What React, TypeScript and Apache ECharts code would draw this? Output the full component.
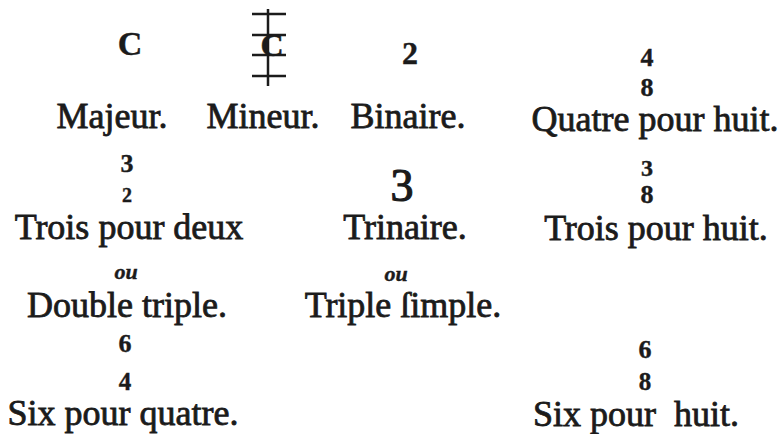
import React, { useEffect, useRef } from "react";
import * as echarts from "echarts";

const FONT = '"Liberation Serif", "Times New Roman", serif';
const INK = "#1b1b1b";

// Text content
const labels = [
  "Majeur.",
  "Mineur.",
  "Binaire.",
  "Quatre pour huit.",
  "Trois pour deux",
  "Trinaire.",
  "Trois pour huit.",
  "Double triple.",
  "Triple ſimple.",
  "Six pour quatre.",
  "Six pour  huit.",
];
const symbols = ["C", "2", "4", "8", "3", "2", "3", "3", "8", "ou", "ou", "6", "4", "6", "8"];

// Layout (centres, sizes, styles)
const labelPos: number[][] = [
  [112, 116], [263, 116], [408, 116], [655, 119],
  [129, 227], [405, 227], [656, 228],
  [127, 305], [403, 305],
  [123, 413], [636, 414],
];
const symbolPos: number[][] = [
  [130, 43], [410, 53], [647, 57], [647, 87],
  [127, 163], [127, 195], [402, 185], [647, 168], [647, 194],
  [126, 271], [396, 273],
  [125, 343], [125, 381], [645, 349], [645, 381],
];
const symbolSize = [34, 32, 26, 26, 26, 20, 46, 24, 26, 22, 22, 26, 25, 26, 25];
const symbolWeight = ["bold", "bold", "bold", "bold", "bold", "bold", "normal", "bold", "bold", "bold", "bold", "bold", "bold", "bold", "bold"];
const symbolStyle = ["normal", "normal", "normal", "normal", "normal", "normal", "normal", "normal", "normal", "italic", "italic", "normal", "normal", "normal", "normal"];

export default function App() {
  const ref = useRef<HTMLDivElement>(null);
  useEffect(() => {
    const chart = echarts.init(ref.current!, null, { renderer: "svg", width: 779, height: 434 });
    const elements: any[] = [];
    labels.forEach((t, i) => {
      elements.push({
        type: "text",
        x: labelPos[i][0],
        y: labelPos[i][1],
        style: {
          text: t,
          fontFamily: FONT,
          fontSize: 36,
          fill: INK,
          stroke: INK,
          lineWidth: 0.8,
          align: "center",
          verticalAlign: "middle",
        },
      });
    });
    symbols.forEach((t, i) => {
      elements.push({
        type: "text",
        x: symbolPos[i][0],
        y: symbolPos[i][1],
        style: {
          text: t,
          fontFamily: FONT,
          fontSize: symbolSize[i],
          fontWeight: symbolWeight[i],
          fontStyle: symbolStyle[i],
          fill: INK,
          stroke: INK,
          lineWidth: symbolWeight[i] === "normal" ? 1.2 : 0.4,
          align: "center",
          verticalAlign: "middle",
        },
      });
    });
    // Cut-C sign with its staff
    const cx = 268;
    elements.push({ type: "line", shape: { x1: cx, y1: 9, x2: cx, y2: 86 }, style: { stroke: INK, lineWidth: 2.5 } });
    [14, 35, 55, 76].forEach((yy) => {
      elements.push({ type: "line", shape: { x1: 252, y1: yy, x2: 286, y2: yy }, style: { stroke: INK, lineWidth: 2.6 } });
    });
    elements.push({
      type: "text",
      x: 272,
      y: 45,
      style: { text: "C", fontFamily: FONT, fontSize: 32, fontWeight: "bold", fill: INK, stroke: INK, lineWidth: 0.5, align: "center", verticalAlign: "middle" },
    });

    chart.setOption({ animation: false, backgroundColor: "#ffffff", graphic: { elements } });
    return () => chart.dispose();
  }, []);
  return (
    <div
      ref={ref}
      style={{ position: "fixed", left: 0, top: 0, width: 779, height: 434, background: "#ffffff" }}
    />
  );
}
